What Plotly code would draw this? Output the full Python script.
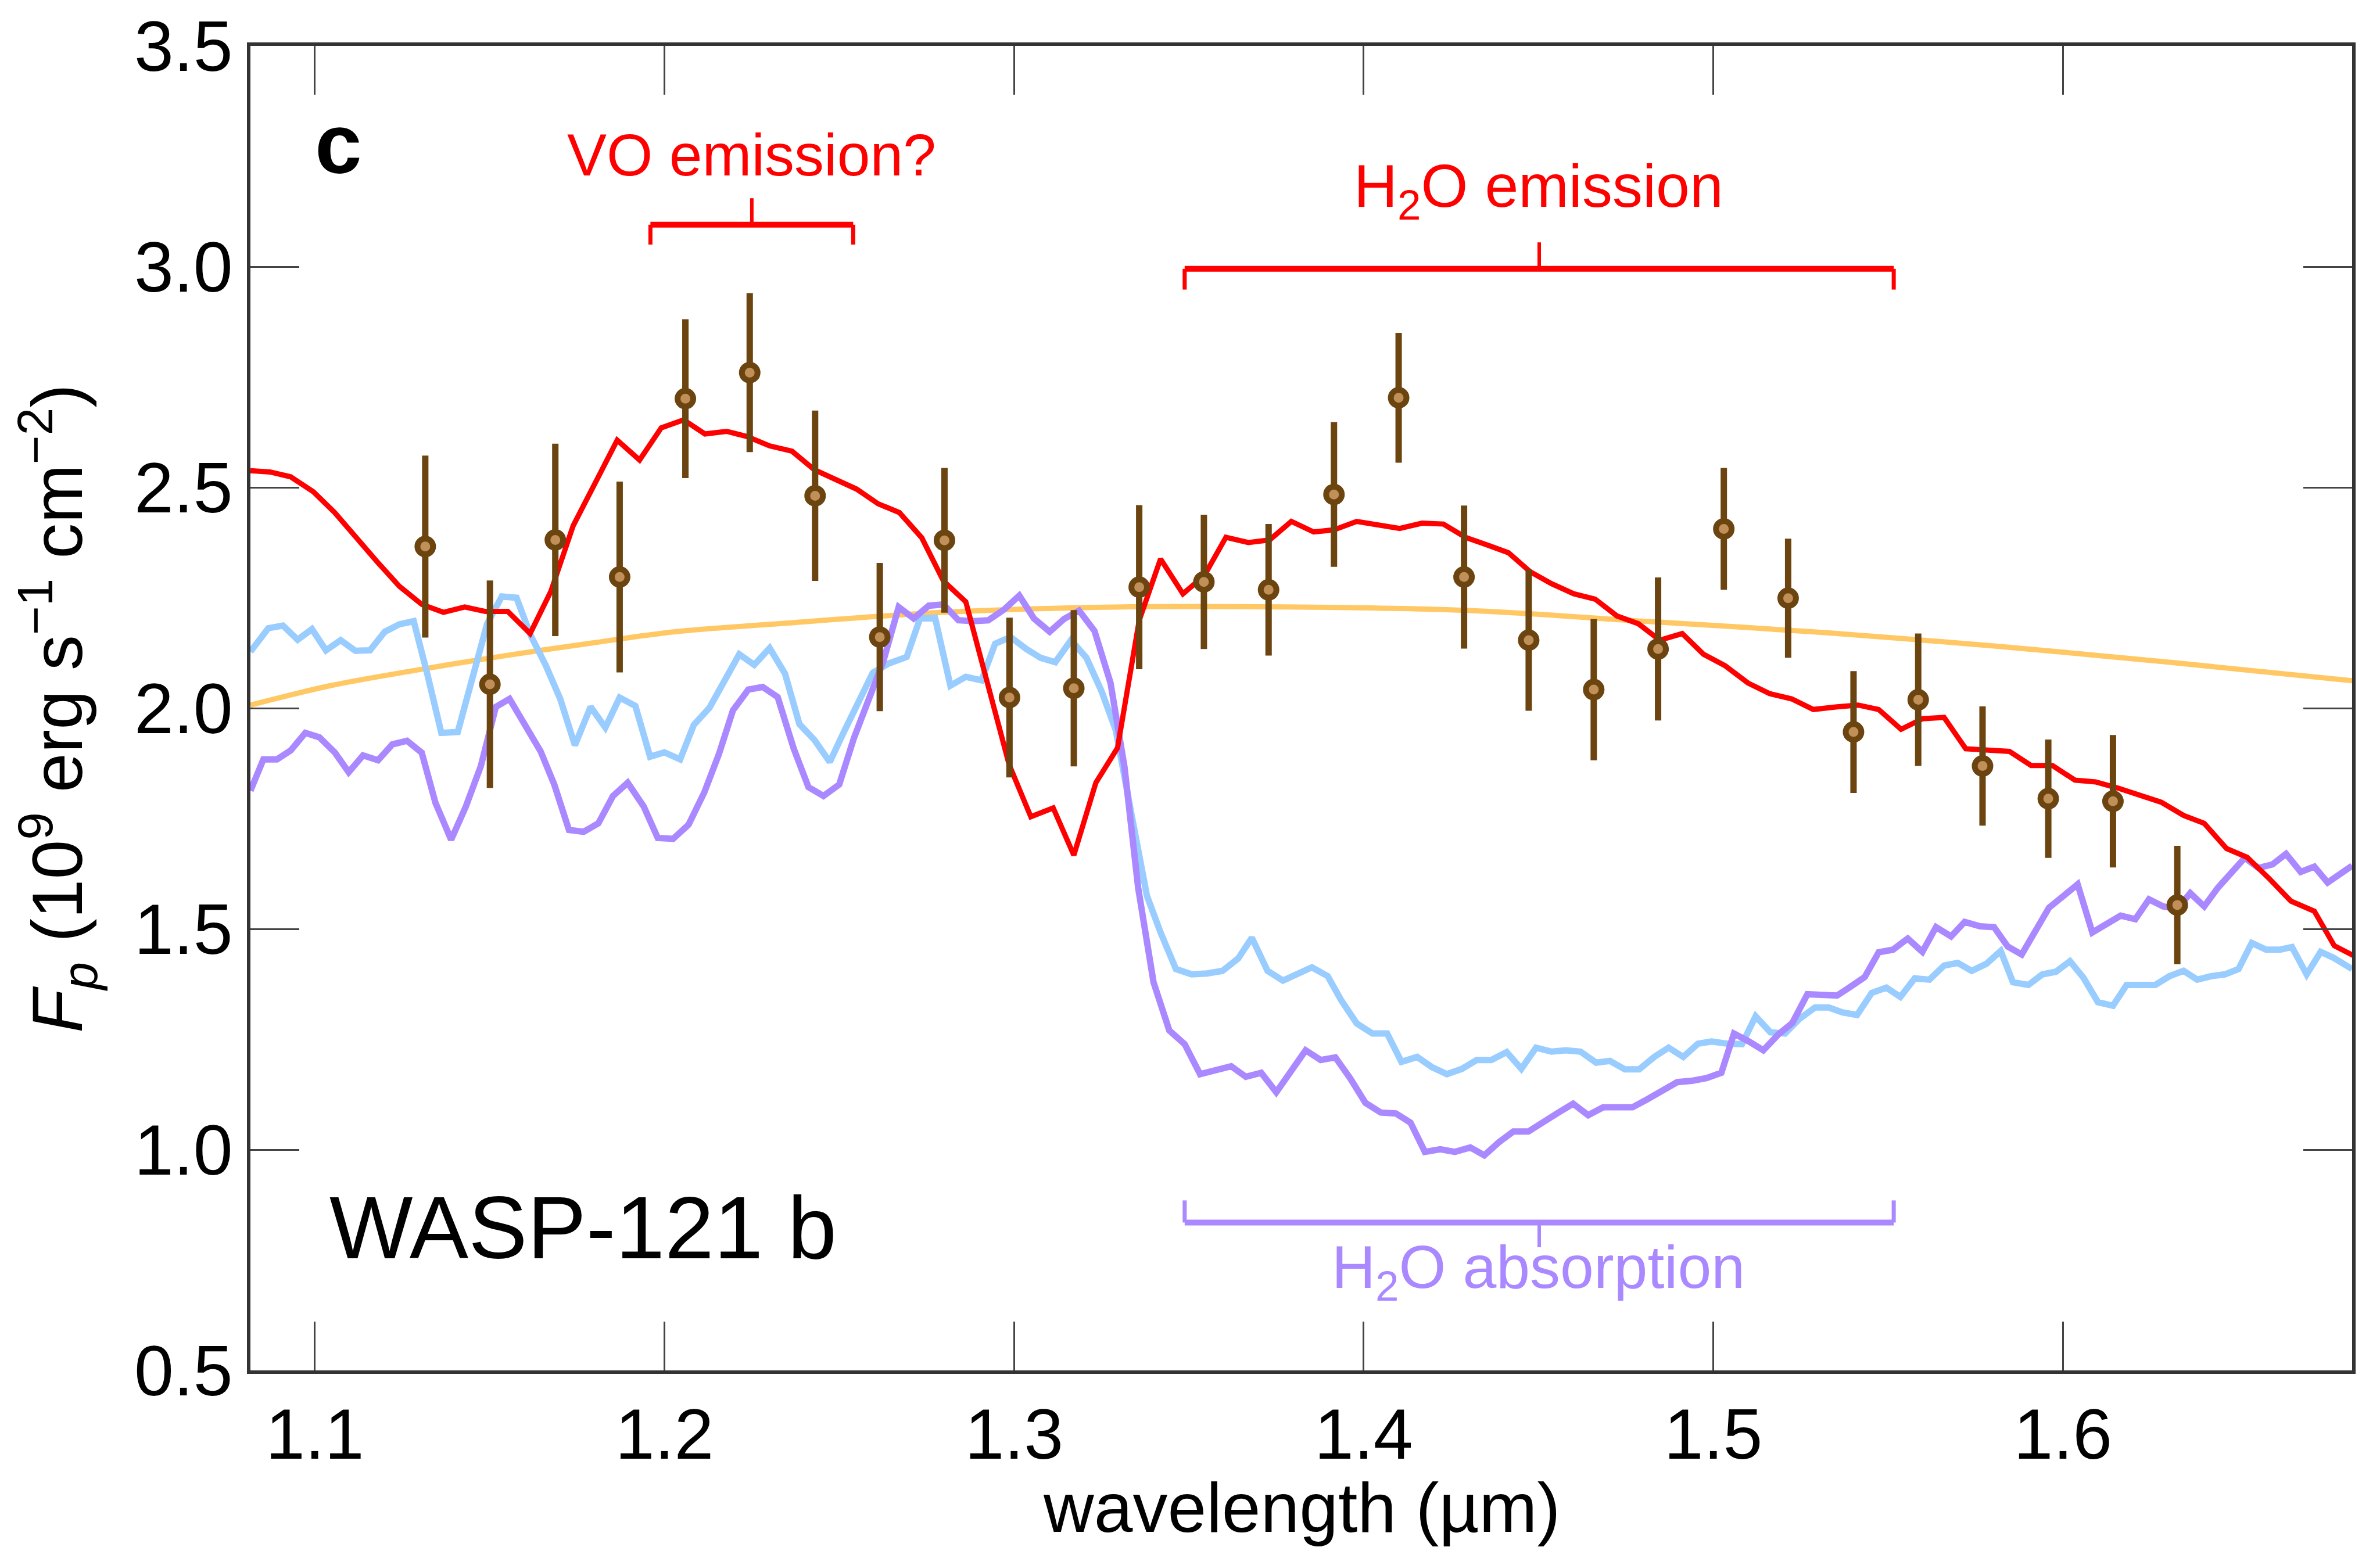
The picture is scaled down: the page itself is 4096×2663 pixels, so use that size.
import plotly.graph_objects as go

# ---------------- data ----------------
data_wl = [1.1316, 1.1501, 1.1688, 1.1872, 1.2060, 1.2244, 1.2431, 1.2616, 1.2801, 1.2987,
           1.3171, 1.3358, 1.3543, 1.3728, 1.3915, 1.4100, 1.4287, 1.4472, 1.4658, 1.4842,
           1.5030, 1.5214, 1.5401, 1.5586, 1.5770, 1.5958, 1.6143, 1.6327]
data_fp = [2.366, 2.054, 2.381, 2.297, 2.701, 2.760, 2.481, 2.161, 2.380, 2.024,
           2.045, 2.274, 2.286, 2.268, 2.484, 2.703, 2.297, 2.154, 2.042, 2.134,
           2.406, 2.249, 1.946, 2.019, 1.869, 1.795, 1.789, 1.554]
data_err = [0.206, 0.235, 0.218, 0.216, 0.180, 0.180, 0.193, 0.168, 0.164, 0.181,
            0.177, 0.186, 0.152, 0.149, 0.164, 0.147, 0.162, 0.160, 0.160, 0.162,
            0.138, 0.135, 0.138, 0.150, 0.135, 0.134, 0.150, 0.134]

bb_wl = [1.0816, 1.1045, 1.129, 1.1537, 1.178, 1.203, 1.2306, 1.2798, 1.329, 1.3813,
         1.4305, 1.4798, 1.532, 1.5813, 1.6305, 1.6827]
bb_fp = [2.007, 2.051, 2.086, 2.118, 2.146, 2.173, 2.190, 2.217, 2.229, 2.229,
         2.221, 2.197, 2.171, 2.140, 2.104, 2.062]

red_wl = [1.0816, 1.0872, 1.0931, 1.0996, 1.1057, 1.1114, 1.1178, 1.1242, 1.1306, 1.1368,
          1.1429, 1.1488, 1.1552, 1.1616, 1.1675, 1.1739, 1.1802, 1.1865, 1.1929, 1.1991,
          1.2055, 1.2116, 1.2178, 1.2237, 1.2301, 1.2365, 1.2429, 1.2488, 1.2550, 1.2611,
          1.2672, 1.2736, 1.2798, 1.2862, 1.2924, 1.2986, 1.3048, 1.3112, 1.3171, 1.3234,
          1.3296, 1.3358, 1.3419, 1.3483, 1.3544, 1.3606, 1.3670, 1.3731, 1.3793, 1.3857,
          1.3916, 1.3980, 1.4103, 1.4167, 1.4228, 1.4291, 1.4355, 1.4414, 1.4476, 1.4537,
          1.4601, 1.4662, 1.4724, 1.4786, 1.4847, 1.4911, 1.4972, 1.5034, 1.5099, 1.5161,
          1.5224, 1.5286, 1.5354, 1.5414, 1.5473, 1.5537, 1.5598, 1.5660, 1.5722, 1.5783,
          1.5847, 1.5909, 1.5970, 1.6034, 1.6093, 1.6157, 1.6217, 1.6281, 1.6345, 1.6404,
          1.6468, 1.6527, 1.6591, 1.6652, 1.6719, 1.6776, 1.6832]
red_fp = [2.538, 2.535, 2.524, 2.490, 2.443, 2.389, 2.332, 2.276, 2.235, 2.217,
          2.229, 2.219, 2.219, 2.169, 2.264, 2.413, 2.511, 2.607, 2.562, 2.635,
          2.653, 2.621, 2.627, 2.615, 2.594, 2.582, 2.540, 2.518, 2.496, 2.463,
          2.443, 2.386, 2.288, 2.241, 2.057, 1.872, 1.754, 1.774, 1.667, 1.831,
          1.910, 2.199, 2.338, 2.259, 2.300, 2.387, 2.375, 2.381, 2.423, 2.399,
          2.404, 2.423, 2.407, 2.419, 2.417, 2.387, 2.369, 2.352, 2.309, 2.282,
          2.259, 2.247, 2.209, 2.191, 2.154, 2.169, 2.122, 2.096, 2.057, 2.033,
          2.021, 1.997, 2.003, 2.007, 1.997, 1.952, 1.976, 1.979, 1.908, 1.906,
          1.902, 1.870, 1.870, 1.837, 1.833, 1.819, 1.805, 1.787, 1.757, 1.739,
          1.682, 1.662, 1.613, 1.563, 1.540, 1.462, 1.439]

blue_wl = [1.0816, 1.0867, 1.0909, 1.0951, 1.0992, 1.1032, 1.1074, 1.1116, 1.1158, 1.1200,
           1.1242, 1.1283, 1.1321, 1.1362, 1.1409, 1.1454, 1.1493, 1.1535, 1.1577, 1.1618,
           1.1660, 1.1702, 1.1744, 1.1789, 1.1831, 1.1872, 1.1917, 1.1959, 1.2000, 1.2045,
           1.2084, 1.2129, 1.2170, 1.2214, 1.2257, 1.2301, 1.2345, 1.2386, 1.2429, 1.2473,
           1.2512, 1.2555, 1.2596, 1.2641, 1.2693, 1.2731, 1.2774, 1.2818, 1.2862, 1.2907,
           1.2946, 1.2990, 1.3035, 1.3076, 1.3118, 1.3163, 1.3207, 1.3250, 1.3291, 1.3336,
           1.3380, 1.3419, 1.3463, 1.3508, 1.3552, 1.3596, 1.3641, 1.3680, 1.3725, 1.3769,
           1.3813, 1.3852, 1.3897, 1.3936, 1.3980, 1.4025, 1.4067, 1.4108, 1.4153, 1.4195,
           1.4238, 1.4281, 1.4323, 1.4365, 1.4409, 1.4451, 1.4493, 1.4537, 1.4579, 1.4620,
           1.4665, 1.4704, 1.4747, 1.4788, 1.4831, 1.4872, 1.4914, 1.4956, 1.4995, 1.5040,
           1.5082, 1.5121, 1.5163, 1.5205, 1.5246, 1.5291, 1.5330, 1.5369, 1.5411, 1.5453,
           1.5495, 1.5535, 1.5576, 1.5618, 1.5660, 1.5699, 1.5739, 1.5781, 1.5822, 1.5857,
           1.5901, 1.5941, 1.5980, 1.6020, 1.6059, 1.6100, 1.6143, 1.6182, 1.6222, 1.6264,
           1.6305, 1.6345, 1.6384, 1.6424, 1.6463, 1.6502, 1.6540, 1.6581, 1.6621, 1.6655,
           1.6697, 1.6737, 1.6773, 1.6827]
blue_fp = [2.128, 2.181, 2.187, 2.155, 2.179, 2.131, 2.154, 2.130, 2.131, 2.173,
           2.190, 2.197, 2.080, 1.944, 1.946, 2.074, 2.191, 2.253, 2.250, 2.164,
           2.098, 2.021, 1.916, 2.003, 1.956, 2.024, 2.005, 1.890, 1.900, 1.884,
           1.962, 2.001, 2.063, 2.122, 2.098, 2.136, 2.078, 1.964, 1.928, 1.878,
           1.944, 2.015, 2.080, 2.101, 2.116, 2.203, 2.205, 2.051, 2.071, 2.063,
           2.146, 2.161, 2.134, 2.114, 2.104, 2.154, 2.114, 2.039, 1.950, 1.759,
           1.575, 1.492, 1.409, 1.397, 1.399, 1.405, 1.433, 1.480, 1.405, 1.383,
           1.397, 1.413, 1.393, 1.338, 1.286, 1.263, 1.263, 1.199, 1.210, 1.187,
           1.171, 1.183, 1.203, 1.203, 1.221, 1.183, 1.231, 1.222, 1.225, 1.222,
           1.197, 1.201, 1.182, 1.182, 1.210, 1.231, 1.210, 1.240, 1.245, 1.240,
           1.239, 1.302, 1.266, 1.263, 1.296, 1.322, 1.322, 1.311, 1.305, 1.355,
           1.367, 1.346, 1.388, 1.385, 1.417, 1.423, 1.405, 1.421, 1.450, 1.379,
           1.373, 1.397, 1.403, 1.427, 1.389, 1.334, 1.326, 1.373, 1.373, 1.373,
           1.393, 1.405, 1.385, 1.393, 1.397, 1.409, 1.468, 1.453, 1.453, 1.459,
           1.397, 1.448, 1.435, 1.409]

purple_wl = [1.0816, 1.0853, 1.0892, 1.0931, 1.0973, 1.1013, 1.1057, 1.1097, 1.1138, 1.1181,
             1.1222, 1.1264, 1.1306, 1.1345, 1.1390, 1.1432, 1.1475, 1.1518, 1.1557, 1.1601,
             1.1646, 1.1685, 1.1727, 1.1769, 1.1811, 1.1853, 1.1895, 1.1941, 1.1981, 1.2025,
             1.2069, 1.2114, 1.2156, 1.2196, 1.2240, 1.2281, 1.2324, 1.2370, 1.2412, 1.2455,
             1.2500, 1.2542, 1.2586, 1.2626, 1.2670, 1.2713, 1.2756, 1.2798, 1.2841, 1.2884,
             1.2926, 1.2971, 1.3015, 1.3057, 1.3102, 1.3143, 1.3186, 1.3230, 1.3276, 1.3316,
             1.3355, 1.3399, 1.3444, 1.3488, 1.3532, 1.3577, 1.3621, 1.3663, 1.3707, 1.3750,
             1.3794, 1.3834, 1.3877, 1.3919, 1.3961, 1.4005, 1.4049, 1.4092, 1.4134, 1.4175,
             1.4219, 1.4261, 1.4305, 1.4345, 1.4387, 1.4428, 1.4471, 1.4514, 1.4557, 1.4599,
             1.4642, 1.4685, 1.4727, 1.4769, 1.4811, 1.4854, 1.4897, 1.4939, 1.4980, 1.5023,
             1.5059, 1.5102, 1.5143, 1.5186, 1.5226, 1.5269, 1.5312, 1.5354, 1.5394, 1.5433,
             1.5473, 1.5514, 1.5556, 1.5598, 1.5637, 1.5680, 1.5719, 1.5763, 1.5803, 1.5842,
             1.5882, 1.5921, 1.5960, 1.6002, 1.6042, 1.6084, 1.6126, 1.6165, 1.6207, 1.6246,
             1.6286, 1.6327, 1.6364, 1.6404, 1.6443, 1.6483, 1.6520, 1.6559, 1.6599, 1.6638,
             1.6680, 1.6719, 1.6757, 1.6827]
purple_fp = [1.813, 1.884, 1.884, 1.904, 1.944, 1.934, 1.900, 1.855, 1.893, 1.882,
             1.918, 1.926, 1.899, 1.786, 1.702, 1.777, 1.869, 2.003, 2.021, 1.962,
             1.902, 1.827, 1.724, 1.720, 1.739, 1.801, 1.831, 1.777, 1.706, 1.704,
             1.736, 1.809, 1.896, 1.995, 2.042, 2.048, 2.025, 1.908, 1.821, 1.801,
             1.827, 1.932, 2.021, 2.106, 2.229, 2.203, 2.232, 2.235, 2.199, 2.197,
             2.199, 2.223, 2.255, 2.203, 2.173, 2.202, 2.221, 2.175, 2.057, 1.866,
             1.593, 1.379, 1.270, 1.239, 1.171, 1.181, 1.189, 1.165, 1.174, 1.130,
             1.177, 1.225, 1.203, 1.209, 1.162, 1.106, 1.084, 1.082, 1.061, 0.995,
             1.001, 0.995, 1.005, 0.987, 1.017, 1.041, 1.041, 1.064, 1.084, 1.104,
             1.078, 1.096, 1.096, 1.096, 1.114, 1.132, 1.153, 1.156, 1.162, 1.174,
             1.263, 1.245, 1.225, 1.261, 1.287, 1.352, 1.352, 1.349, 1.370, 1.391,
             1.447, 1.453, 1.478, 1.448, 1.504, 1.483, 1.516, 1.506, 1.504, 1.460,
             1.442, 1.498, 1.548, 1.575, 1.601, 1.492, 1.510, 1.530, 1.522, 1.567,
             1.551, 1.545, 1.581, 1.551, 1.593, 1.626, 1.661, 1.638, 1.646, 1.670,
             1.629, 1.641, 1.605, 1.643]

x_ticks = [1.1, 1.2, 1.3, 1.4, 1.5, 1.6]
y_ticks = [0.5, 1.0, 1.5, 2.0, 2.5, 3.0, 3.5]

# bracket annotations: [x_start, x_end, bar_y, end_y, tick_y]
vo_bracket = [1.196, 1.254, 3.095, 3.050, 3.155]
h2o_em_bracket = [1.3488, 1.5516, 2.995, 2.948, 3.055]
h2o_abs_bracket = [1.3488, 1.5516, 0.835, 0.885, 0.779]

RED = "#FF0000"
BLUE = "#99CCFF"
PURPLE = "#AA88FF"
ORANGE = "#FFC864"
BROWN = "#6B4410"
TAN = "#C09058"
FONT = "Liberation Sans, Arial, Helvetica, sans-serif"

fig = go.Figure()
fig.add_trace(go.Scatter(x=bb_wl, y=bb_fp, mode="lines",
                         line=dict(color=ORANGE, width=9, shape="spline"), hoverinfo="skip"))
fig.add_trace(go.Scatter(x=blue_wl, y=blue_fp, mode="lines",
                         line=dict(color=BLUE, width=11), hoverinfo="skip"))
fig.add_trace(go.Scatter(x=purple_wl, y=purple_fp, mode="lines",
                         line=dict(color=PURPLE, width=11), hoverinfo="skip"))
fig.add_trace(go.Scatter(x=red_wl, y=red_fp, mode="lines",
                         line=dict(color=RED, width=9), hoverinfo="skip"))
fig.add_trace(go.Scatter(x=data_wl, y=data_fp, mode="markers",
                         marker=dict(size=27, color=TAN, line=dict(color=BROWN, width=10)),
                         error_y=dict(type="data", array=data_err, visible=True,
                                      color=BROWN, thickness=11, width=0)))

def add_bracket(b, color):
    x0, x1, ybar, yend, ytick = b
    xm = (x0 + x1) / 2
    fig.add_shape(type="line", x0=x0, x1=x1, y0=ybar, y1=ybar,
                  line=dict(color=color, width=10), xref="x", yref="y")
    fig.add_shape(type="line", x0=x0, x1=x0, y0=ybar, y1=yend,
                  line=dict(color=color, width=7), xref="x", yref="y")
    fig.add_shape(type="line", x0=x1, x1=x1, y0=ybar, y1=yend,
                  line=dict(color=color, width=7), xref="x", yref="y")
    fig.add_shape(type="line", x0=xm, x1=xm, y0=ybar, y1=ytick,
                  line=dict(color=color, width=6), xref="x", yref="y")

add_bracket(vo_bracket, RED)
add_bracket(h2o_em_bracket, RED)
add_bracket(h2o_abs_bracket, PURPLE)

ann = []
ann.append(dict(text="VO emission?", x=1.225, y=3.253, xref="x", yref="y",
                font=dict(family=FONT, size=102, color=RED)))
ann.append(dict(text="H<sub>2</sub>O emission", x=1.450, y=3.173, xref="x", yref="y",
                font=dict(family=FONT, size=104, color=RED)))
ann.append(dict(text="H<sub>2</sub>O absorption", x=1.450, y=0.725, xref="x", yref="y",
                font=dict(family=FONT, size=104, color=PURPLE)))
ann.append(dict(text="<b>c</b>", x=0.042, y=0.926, xref="paper", yref="paper",
                font=dict(family=FONT, size=145, color="black")))
ann.append(dict(text="WASP-121 b", x=0.037, y=0.108, xref="paper", yref="paper",
                xanchor="left", font=dict(family=FONT, size=152, color="black")))
ann.append(dict(text="wavelength (µm)", x=0.5, y=-0.1035, xref="paper", yref="paper",
                font=dict(family=FONT, size=120, color="black")))
ann.append(dict(text="<i>F</i><sub><i>p</i></sub> (10<sup>9</sup> erg s<sup>−1</sup> cm<sup>−2</sup>)",
                x=-0.0918, y=0.5, xref="paper", yref="paper", textangle=-90,
                font=dict(family=FONT, size=122, color="black")))
for a in ann:
    a.setdefault("xanchor", "center")
    a.setdefault("yanchor", "middle")
    a["showarrow"] = False
fig.update_layout(annotations=ann)

axis_common = dict(showgrid=False, zeroline=False, showline=True, linecolor="#333333",
                   linewidth=6, mirror="ticks", ticks="inside", ticklen=84, tickwidth=2.5,
                   tickcolor="#444444", tickfont=dict(family=FONT, size=122, color="black"))
fig.update_xaxes(range=[1.0816, 1.6827], tickvals=x_ticks,
                 ticktext=[f"{v:.1f}" for v in x_ticks], **axis_common)
fig.update_yaxes(range=[0.5, 3.5], tickvals=y_ticks,
                 ticktext=[f"{v:.1f}" for v in y_ticks], **axis_common)

fig.update_layout(width=4096, height=2663, margin=dict(l=431, r=48, t=77, b=304),
                  paper_bgcolor="white", plot_bgcolor="white", showlegend=False,
                  font=dict(family=FONT))
fig.write_html("out.html")
